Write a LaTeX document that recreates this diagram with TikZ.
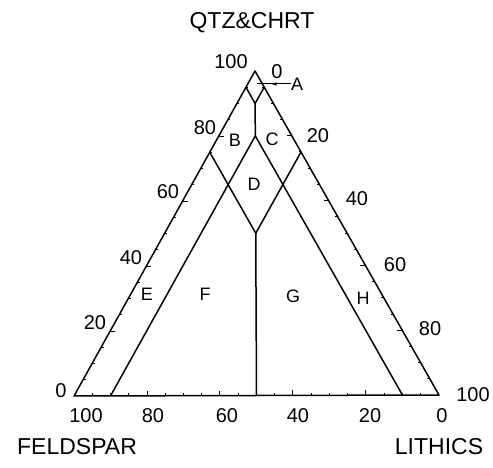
\documentclass[tikz,border=0pt]{standalone}
\usepackage{fontspec}
\setmainfont{Liberation Sans}
\usetikzlibrary{calc,decorations.markings,arrows.meta}
\begin{document}
\begin{tikzpicture}[x=1pt,y=-1pt,
  side/.style={line width=1.5pt, line join=round},
  bound/.style={line width=1.5pt, line join=round},
  tickmark/.style={line width=1pt},
  num/.style={font=\fontsize{20}{20}\selectfont, inner sep=0pt},
  axlabel/.style={font=\fontsize{23}{23}\selectfont, inner sep=0pt},
  region/.style={font=\fontsize{18}{18}\selectfont, inner sep=0pt},
  midarrow/.style={decoration={markings, mark=at position 0.6 with {\arrow{Latex[length=6pt,width=3.5pt]}}}, postaction={decorate}}]
\useasboundingbox (0,0) rectangle (493,468);
\coordinate (T) at (255,71);
\coordinate (F) at (74,396);
\coordinate (L) at (439,395);
\draw[side] (F) -- (T) -- (L) -- cycle;
% internal points
\coordinate (q95f) at (barycentric cs:T=0.95,F=0.05);
\coordinate (q95l) at (barycentric cs:T=0.95,L=0.05);
\coordinate (c90) at (barycentric cs:T=0.9,F=0.05,L=0.05);
\coordinate (c80) at (barycentric cs:T=0.8,F=0.1,L=0.1);
\coordinate (c50) at (barycentric cs:T=0.5,F=0.25,L=0.25);
\coordinate (q75f) at (barycentric cs:T=0.75,F=0.25);
\coordinate (q75l) at (barycentric cs:T=0.75,L=0.25);
\coordinate (b10) at (barycentric cs:F=0.9,L=0.1);
\coordinate (b90) at (barycentric cs:F=0.1,L=0.9);
\coordinate (b50) at (barycentric cs:F=0.5,L=0.5);
\draw[bound] (q95f) -- (c90) -- (q95l);
\draw[bound] (c90) -- (c80);
\draw[bound] (b10) -- (c80) -- (b90);
\draw[bound] (q75f) -- (c50) -- (q75l);
\draw[bound] (c50) -- (b50);
% ticks
\foreach \i in {1,...,19}{
  \pgfmathtruncatemacro\m{mod(\i,4)}
  \ifnum\m=0 \def\len{5}\else\def\len{2.5}\fi
  \draw[tickmark] ($(F)!\i/20!(T)$) -- ++(\len,0);
  \draw[tickmark] ($(T)!\i/20!(L)$) -- ++(-\len,0);
  \draw[tickmark] ($(F)!\i/20!(L)$) -- ++(0,-\len);
}
% axis titles
\node[axlabel] (tq) at (252,23) {QTZ\&CHRT};
\node[axlabel] (tf) at (77,447) {FELDSPAR};
\node[axlabel] (tl) at (439,447) {LITHICS};
% left side numbers
\node[num] (l0) at (61,391) {0};
\node[num] (l20) at (95,323) {20};
\node[num] (l40) at (131,258) {40};
\node[num] (l60) at (168,192) {60};
\node[num] (l80) at (205,128) {80};
\node[num] (l100) at (231,62) {100};
% right side numbers
\node[num] (r0) at (277,72) {0};
\node[num] (r20) at (318,136) {20};
\node[num] (r40) at (357,199) {40};
\node[num] (r60) at (395,265) {60};
\node[num] (r80) at (430,329) {80};
\node[num] (r100) at (473,395) {100};
% base numbers
\node[num] (b100n) at (86,416) {100};
\node[num] (b80n) at (153,416) {80};
\node[num] (b60n) at (227,416) {60};
\node[num] (b40n) at (298,416) {40};
\node[num] (b20n) at (370,416) {20};
\node[num] (b0n) at (442,416) {0};
% region letters
\node[region] (A) at (297,84) {A};
\coordinate (atip) at (257,84);
\draw[tickmark, midarrow] (A.west) -- (atip);
\node[region] (B) at (235,140) {B};
\node[region] (C) at (272,139) {C};
\node[region] (D) at (254,184) {D};
\node[region] (E) at (147,294) {E};
\node[region] (Fr) at (205,294) {F};
\node[region] (G) at (293,296) {G};
\node[region] (H) at (363,298) {H};
\end{tikzpicture}
\end{document}
